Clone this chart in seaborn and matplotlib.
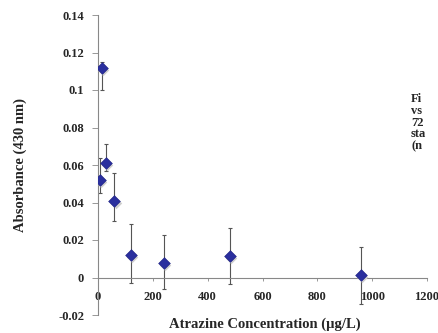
import matplotlib
matplotlib.use("Agg")
import matplotlib.pyplot as plt
import seaborn as sns
import pandas as pd

# Data
concentration = [7.5, 15, 30, 60, 120, 240, 480, 960]
absorbance = [0.052, 0.112, 0.061, 0.041, 0.012, 0.008, 0.0115, 0.0015]
err_low = [0.007, 0.012, 0.004, 0.011, 0.015, 0.014, 0.015, 0.0155]
err_high = [0.012, 0.003, 0.010, 0.0145, 0.0167, 0.0145, 0.015, 0.015]
y_ticks = [-0.02, 0, 0.02, 0.04, 0.06, 0.08, 0.1, 0.12, 0.14]
y_tick_labels = ["-0.02", "0", "0.02", "0.04", "0.06", "0.08", "0.1", "0.12", "0.14"]
x_ticks = [0, 200, 400, 600, 800, 1000, 1200]
caption = ["Fi", "vs", "72", "sta", "(n"]

df = pd.DataFrame({"conc": concentration, "abs": absorbance})

sns.set_style("white")
plt.rcParams["font.family"] = ["Liberation Serif", "DejaVu Serif"]
plt.rcParams["font.weight"] = "bold"

fig = plt.figure(figsize=(4.38, 3.33), dpi=100)
ax = fig.add_axes([98 / 438, 18 / 333, 329 / 438, 300 / 333])

# error bars (gray)
ax.errorbar(df["conc"], df["abs"], yerr=[err_low, err_high], fmt="none",
            ecolor="#555555", elinewidth=0.8, capsize=1.5, capthick=0.8, zorder=2)
# marker shadow
ax.scatter(df["conc"] + 4, df["abs"] - 0.0012, marker="D", s=34,
           color="#cfcfcf", linewidths=0, zorder=3)
sns.scatterplot(data=df, x="conc", y="abs", marker="D", s=36, color="#2a2f9e",
                edgecolor="#1c2080", linewidth=0.4, ax=ax, zorder=4)

ax.set_xlim(0, 1200)
ax.set_ylim(-0.02, 0.14)
ax.set_yticks(y_ticks)
ax.set_yticklabels(y_tick_labels)
ax.set_xticks(x_ticks)
ax.set_xticklabels([str(v) for v in x_ticks])

for s in ["top", "right"]:
    ax.spines[s].set_visible(False)
ax.spines["left"].set_color("#888888")
ax.spines["bottom"].set_color("#888888")
ax.spines["left"].set_linewidth(0.8)
ax.spines["bottom"].set_linewidth(0.8)
ax.spines["bottom"].set_position(("data", 0))

ax.tick_params(axis="y", direction="out", length=4, width=0.6, color="#888888",
               labelsize=9, pad=6, left=True)
ax.tick_params(axis="x", direction="out", length=2, width=0.6, color="#888888",
               labelsize=9, pad=8, bottom=True)
for lbl in ax.get_xticklabels() + ax.get_yticklabels():
    lbl.set_fontweight("bold")

ax.set_xlabel("")
ax.set_ylabel("")
fig.text(265 / 438, 1 - 324 / 333, "Atrazine Concentration (\u00b5g/L)",
         ha="center", va="center", fontsize=10.5, fontweight="bold")
fig.text(20 / 438, 1 - 165 / 333, "Absorbance (430 nm)", rotation=90,
         ha="center", va="center", fontsize=10.5, fontweight="bold")

for i, line in enumerate(caption):
    fig.text(411 / 438, 1 - (99 + 11.8 * i) / 333, line, ha="left", va="center",
             fontsize=9, fontweight="bold")

fig.savefig("out.png", dpi=100)
